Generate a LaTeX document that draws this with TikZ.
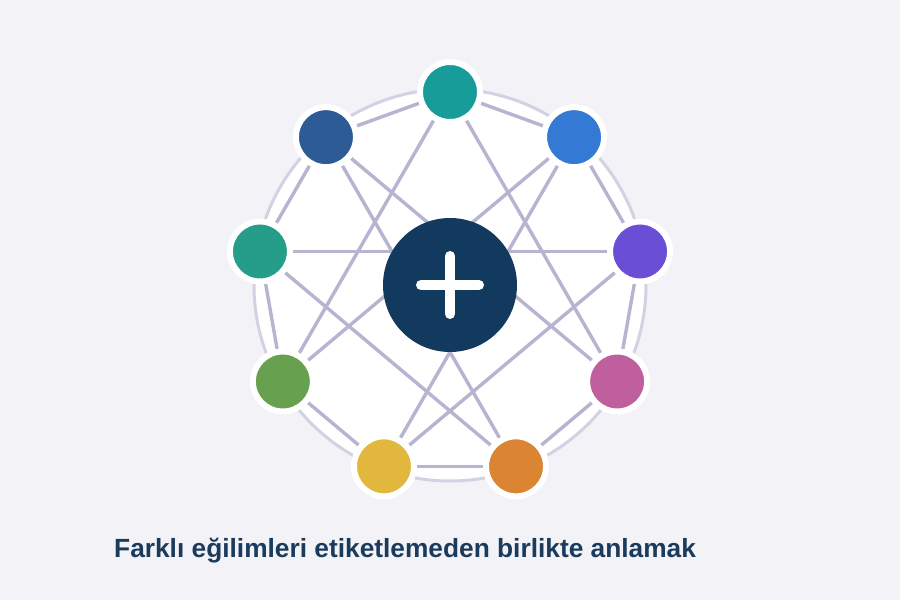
\documentclass[tikz,border=0pt]{standalone}
\usepackage{fontspec}
\setmainfont{Liberation Sans}
\definecolor{bgcol}{HTML}{F2F2F7}
\definecolor{ringgray}{HTML}{D3D2E3}
\definecolor{linkgray}{HTML}{B7B3D0}
\definecolor{hubblue}{HTML}{12395E}
\definecolor{titleblue}{HTML}{1B3B5D}
\definecolor{c0}{HTML}{189C9A}
\definecolor{c1}{HTML}{3479D3}
\definecolor{c2}{HTML}{6B4ED6}
\definecolor{c3}{HTML}{C05F9E}
\definecolor{c4}{HTML}{DB8431}
\definecolor{c5}{HTML}{E1B83D}
\definecolor{c6}{HTML}{67A04E}
\definecolor{c7}{HTML}{259D89}
\definecolor{c8}{HTML}{2C5B95}
\pgfdeclarelayer{back}
\pgfdeclarelayer{mid}
\pgfsetlayers{back,mid,main}

\begin{document}
\begin{tikzpicture}[x=1pt, y=1pt,
    link/.style={draw=linkgray, line width=3.4pt},
    dot/.style={circle, draw=white, line width=6pt, minimum size=60pt, inner sep=0pt}]
    % Background and white disk
    \begin{pgfonlayer}{back}
        \fill[bgcol] (-450, -315) rectangle (450, 285);
        \draw[fill=white, draw=ringgray, line width=3pt] (0, 0) circle[radius=196];
    \end{pgfonlayer}

    % Outer nodes
    \foreach \i/\col in {0/c0, 1/c1, 2/c2, 3/c3, 4/c4, 5/c5, 6/c6, 7/c7, 8/c8}
        \node[dot, fill=\col] (n\i) at ({90-40*\i}:193) {};

    % Centre hub
    \node[circle, fill=hubblue, minimum size=134pt, inner sep=0pt] (hub) at (0, 0) {};
    \draw[white, line width=10pt, line cap=round] (-29, 0) -- (29, 0) (0, -29) -- (0, 29);

    % Links: ring and chords
    \begin{pgfonlayer}{mid}
        \foreach \a/\b in {0/1, 1/2, 2/3, 3/4, 4/5, 5/6, 6/7, 7/8, 8/0}
            \draw[link] (n\a) -- (n\b);
        \foreach \a/\b in {0/6, 0/3, 8/3, 8/4, 1/6, 1/5, 7/2, 7/4, 2/5}
            \draw[link] (n\a) -- (n\b);
    \end{pgfonlayer}

    % Caption
    \node[anchor=base west, inner sep=0pt, text=titleblue,
          font=\bfseries\fontsize{26.3}{30}\selectfont] (title) at (-336, -272)
          {Farklı eğilimleri etiketlemeden birlikte anlamak};
\end{tikzpicture}
\end{document}
